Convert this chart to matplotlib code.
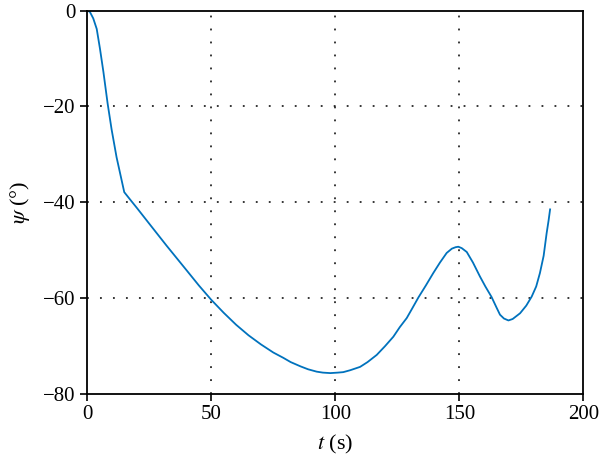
import matplotlib
matplotlib.use("Agg")
import matplotlib.pyplot as plt

t = [0, 1, 2.4, 3.8, 5.1, 6.5, 8.2, 9.8, 11.8, 14.9, 17.2,
     20, 25, 32, 40, 45, 50, 55, 60, 65, 70, 75, 79, 82, 86,
     89, 92.5, 95, 98, 101, 103.2, 106, 110, 113, 116.7, 120, 123.4, 126,
     128.8, 131, 133.5, 136.5, 139.5, 142.2, 144.9, 147, 148.5, 149.6, 151,
     153, 155.5, 158.3, 160.5, 163, 165, 166.4, 168, 169.8, 171.5, 174.5,
     177, 179.2, 181, 182.5, 184, 185.2, 186, 186.6]
psi = [0, -0.2, -1.6, -3.8, -7.9, -12.8, -19.4, -24.8, -30.6, -37.9, -39.4,
       -41.2, -44.5, -49.1, -54.2, -57.4, -60.4, -63.1, -65.6, -67.8, -69.7, -71.4, -72.5, -73.4, -74.3,
       -74.9, -75.4, -75.6, -75.7, -75.6, -75.5, -75.1, -74.4, -73.4, -71.9, -70.1, -68.1, -66.1,
       -64.2, -62.2, -59.9, -57.4, -54.8, -52.6, -50.6, -49.7, -49.4, -49.3, -49.6,
       -50.4, -52.6, -55.5, -57.6, -59.8, -62.0, -63.5, -64.3, -64.7, -64.4, -63.2,
       -61.6, -59.7, -57.6, -54.8, -51.2, -46.5, -43.8, -41.5]

xticks = [0, 50, 100, 150, 200]
yticks = [0, -20, -40, -60, -80]

plt.rcParams['font.family'] = ['Liberation Serif', 'DejaVu Serif']
plt.rcParams['mathtext.fontset'] = 'stix'

fig = plt.figure(figsize=(6, 4.67), dpi=100)
ax = fig.add_axes([0.1455, 0.157, 0.8267, 0.82])
ax.plot(t, psi, color='#0072BD', lw=1.3, solid_joinstyle='round')
ax.set_xlim(0, 200)
ax.set_ylim(-80, 0)
ax.set_xticks(xticks)
ax.set_yticks(yticks)
ax.tick_params(direction='out', length=5, width=1.2, labelsize=15, colors='black')
for s in ax.spines.values():
    s.set_linewidth(1.3)
for x in xticks[1:-1]:
    ax.axvline(x, color='black', ls=(0, (1.2, 7.3)), lw=1.1, zorder=1)
for y in yticks[1:-1]:
    ax.axhline(y, color='black', ls=(0, (1.2, 7.3)), lw=1.1, zorder=1)
ax.set_xlabel(r'$t$ (s)', fontsize=16, labelpad=6)
ax.set_ylabel(r'$\psi$ (°)', fontsize=16, labelpad=8)
fig.savefig('out.png', dpi=100)
